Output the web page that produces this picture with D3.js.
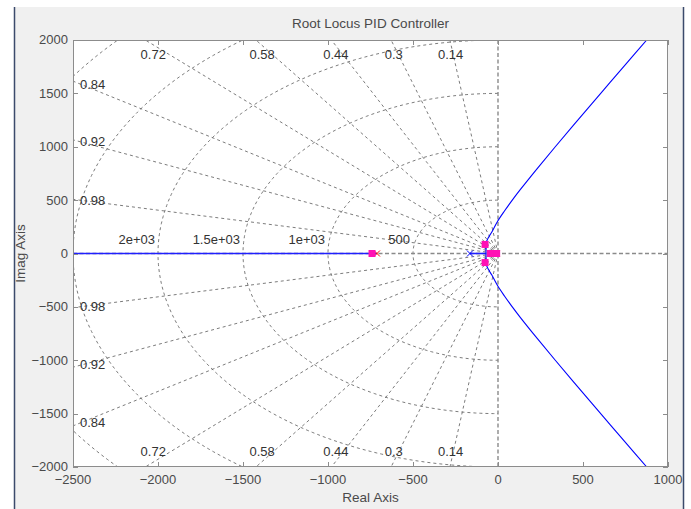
<!DOCTYPE html>
<html>
<head>
<meta charset="utf-8">
<script src="https://cdn.jsdelivr.net/npm/d3@7"></script>
<style>
  html, body { margin: 0; padding: 0; background: #ffffff; }
  svg { display: block; font-family: "Liberation Sans", Arial, sans-serif; }
</style>
</head>
<body>
<svg id="chart" width="691" height="509"></svg>
<script>
// ---------- data ----------
const titleText = "Root Locus PID Controller";
const xLabelText = "Real Axis";
const yLabelText = "Imag Axis";
const xDomain = [-2500, 1000];
const yDomain = [-2000, 2000];
const xTicks = [-2500, -2000, -1500, -1000, -500, 0, 500, 1000];
const yTicks = [-2000, -1500, -1000, -500, 0, 500, 1000, 1500, 2000];

// sgrid
const dampingRatios = [0.14, 0.3, 0.44, 0.58, 0.72, 0.84, 0.92, 0.98];
const dampingLabels = ["0.14", "0.3", "0.44", "0.58", "0.72", "0.84", "0.92", "0.98"];
const wnRadii = [500, 1000, 1500, 2000, 2500, 3000];
const wnLabelRadii = [500, 1000, 1500, 2000];
const wnLabels = ["500", "1e+03", "1.5e+03", "2e+03"];

// root locus branches
const realBranchA = [-2500, -712];
const realBranchB = [-165, -70];
const upperBranchRe = [-70, -71, -70, -56, -37, -3, 39, 84, 132, 233, 337, 443, 550, 658, 766, 875, 929];
const upperBranchIm = [0, 50, 100, 150, 200, 300, 400, 500, 600, 800, 1000, 1200, 1400, 1600, 1800, 2000, 2100];

// open-loop poles (x markers)
const blueXRe = [-165];
const blueXIm = [0];
const redXRe = [-712, -30, -8];
const redXIm = [0, 0, 0];

// closed-loop poles (squares)
const clRe = [-741, -76, -76, -45, -27, -8];
const clIm = [0, 85, -85, 0, 0, 0];

// ---------- layout ----------
const svg = d3.select("#chart");
const L = 73, R = 668, T = 40, B = 467;
const x = d3.scaleLinear().domain(xDomain).range([L, R]);
const y = d3.scaleLinear().domain(yDomain).range([B, T]);

// figure background
svg.append("rect").attr("x", 14).attr("y", 7).attr("width", 669).attr("height", 502).attr("fill", "#f0f0f0");
svg.append("line").attr("x1", 14.5).attr("x2", 14.5).attr("y1", 7).attr("y2", 509).attr("stroke", "#3b4a6b").attr("stroke-width", 1.5);
svg.append("line").attr("x1", 683.5).attr("x2", 683.5).attr("y1", 7).attr("y2", 509).attr("stroke", "#3b4a6b").attr("stroke-width", 1.5);

// axes background
svg.append("rect").attr("x", L).attr("y", T).attr("width", R - L).attr("height", B - T).attr("fill", "#ffffff");

svg.append("defs").append("clipPath").attr("id", "clip")
  .append("rect").attr("x", L).attr("y", T).attr("width", R - L).attr("height", B - T);

const plot = svg.append("g").attr("clip-path", "url(#clip)");
const gridColor = "#5a5a5a";

// natural frequency semicircles (left half-plane)
const arcLine = d3.line().x(d => x(d[0])).y(d => y(d[1]));
wnRadii.forEach(r => {
  const pts = d3.range(90, 270.5, 1).map(a => {
    const t = a * Math.PI / 180;
    return [r * Math.cos(t), r * Math.sin(t)];
  });
  plot.append("path").attr("d", arcLine(pts))
    .attr("fill", "none").attr("stroke", gridColor).attr("stroke-width", 0.8)
    .attr("stroke-dasharray", "3,3");
});

// damping ratio rays
dampingRatios.forEach(z => {
  const th = Math.acos(z);
  const far = 6000;
  [1, -1].forEach(s => {
    plot.append("line")
      .attr("x1", x(0)).attr("y1", y(0))
      .attr("x2", x(-far * Math.cos(th))).attr("y2", y(s * far * Math.sin(th)))
      .attr("stroke", gridColor).attr("stroke-width", 0.8)
      .attr("stroke-dasharray", "3,3");
  });
});

// real and imaginary axes of the s-plane
plot.append("line").attr("x1", L).attr("x2", R).attr("y1", y(0)).attr("y2", y(0))
  .attr("stroke", "#8a8a8a").attr("stroke-width", 1.3).attr("stroke-dasharray", "4,2.5");
plot.append("line").attr("x1", x(0)).attr("x2", x(0)).attr("y1", T).attr("y2", B)
  .attr("stroke", "#8a8a8a").attr("stroke-width", 1.4).attr("stroke-dasharray", "4,2.5");

// damping labels
const labelColor = "#333";
dampingRatios.forEach((z, i) => {
  const th = Math.acos(z);
  const tn = Math.tan(th);
  const xEdge = -yDomain[1] / tn;
  if (xEdge >= xDomain[0]) {
    const lx = x(xEdge) + 12.5 * z - 1;
    [T + 15.5, B - 14.5].forEach(ly => {
      svg.append("text").attr("x", lx).attr("y", ly)
        .attr("text-anchor", "middle").attr("dominant-baseline", "middle")
        .attr("font-size", 13).attr("fill", labelColor).text(dampingLabels[i]);
    });
  } else {
    const xd = x.invert(L + 8);
    const yd = -xd * tn;
    [1, -1].forEach(s => {
      svg.append("text").attr("x", L + 7).attr("y", y(s * yd) + 1)
        .attr("text-anchor", "start").attr("dominant-baseline", "middle")
        .attr("font-size", 13).attr("fill", labelColor).text(dampingLabels[i]);
    });
  }
});

// wn labels
wnLabelRadii.forEach((r, i) => {
  svg.append("text").attr("x", x(-r) - 3).attr("y", y(0) - 9.5)
    .attr("text-anchor", "end").attr("font-size", 13).attr("fill", labelColor).text(wnLabels[i]);
});

// root locus
const locusColor = "#0000ff";
const branch = d3.line().x(d => x(d[0])).y(d => y(d[1])).curve(d3.curveCatmullRom);
[realBranchA, realBranchB].forEach(br => {
  plot.append("line").attr("x1", x(br[0])).attr("x2", x(br[1]))
    .attr("y1", y(0)).attr("y2", y(0)).attr("stroke", "#2020ff").attr("stroke-width", 1.6);
});
const upper = upperBranchRe.map((v, i) => [v, upperBranchIm[i]]);
const lower = upperBranchRe.map((v, i) => [v, -upperBranchIm[i]]);
[upper, lower].forEach(pts => {
  plot.append("path").attr("d", branch(pts)).attr("fill", "none")
    .attr("stroke", locusColor).attr("stroke-width", 1.1);
});

// x markers
function xMark(px, py, color, s) {
  plot.append("path")
    .attr("d", `M${px - s},${py - s}L${px + s},${py + s}M${px - s},${py + s}L${px + s},${py - s}`)
    .attr("stroke", color).attr("stroke-width", 1).attr("fill", "none");
}
blueXRe.forEach((v, i) => xMark(x(v), y(blueXIm[i]), locusColor, 3));
redXRe.forEach((v, i) => xMark(x(v), y(redXIm[i]), "#ff0000", 3));

// closed-loop poles
const sq = 7;
clRe.forEach((v, i) => {
  plot.append("rect").attr("x", x(v) - sq / 2).attr("y", y(clIm[i]) - sq / 2)
    .attr("width", sq).attr("height", sq).attr("fill", "#ff10b4");
});

// axes frame
svg.append("rect").attr("x", L + 0.5).attr("y", T + 0.5).attr("width", R - L - 1).attr("height", B - T - 1)
  .attr("fill", "none").attr("stroke", "#8c8c8c").attr("stroke-width", 1);

// ticks (inward, all four sides)
const tickColor = "#8c8c8c";
const tl = 5;
xTicks.forEach(t => {
  const px = Math.round(x(t)) + 0.5;
  svg.append("line").attr("x1", px).attr("x2", px).attr("y1", B).attr("y2", B - tl).attr("stroke", tickColor);
  svg.append("line").attr("x1", px).attr("x2", px).attr("y1", T).attr("y2", T + tl).attr("stroke", tickColor);
});
yTicks.forEach(t => {
  const py = Math.round(y(t)) + 0.5;
  svg.append("line").attr("x1", L).attr("x2", L + tl).attr("y1", py).attr("y2", py).attr("stroke", tickColor);
  svg.append("line").attr("x1", R).attr("x2", R - tl).attr("y1", py).attr("y2", py).attr("stroke", tickColor);
});

// tick labels
const tickText = "#4a4a4a";
xTicks.forEach(t => {
  svg.append("text").attr("x", x(t)).attr("y", B + 13.5)
    .attr("text-anchor", "middle").attr("dominant-baseline", "middle")
    .attr("font-size", 13).attr("fill", tickText).text(d3.format("d")(t));
});
yTicks.forEach(t => {
  svg.append("text").attr("x", L - 5).attr("y", y(t) + 1)
    .attr("text-anchor", "end").attr("dominant-baseline", "middle")
    .attr("font-size", 13).attr("fill", tickText).text(d3.format("d")(t));
});

// title & axis labels
svg.append("text").attr("x", (L + R) / 2).attr("y", 24).attr("text-anchor", "middle")
  .attr("dominant-baseline", "middle").attr("font-size", 13.5).attr("fill", "#4a4a4a").text(titleText);
svg.append("text").attr("x", (L + R) / 2).attr("y", 498).attr("text-anchor", "middle")
  .attr("dominant-baseline", "middle").attr("font-size", 13.5).attr("fill", "#4a4a4a").text(xLabelText);
svg.append("text").attr("transform", `translate(21,${(T + B) / 2}) rotate(-90)`)
  .attr("text-anchor", "middle").attr("dominant-baseline", "middle")
  .attr("font-size", 13.5).attr("fill", "#4a4a4a").text(yLabelText);
</script>
</body>
</html>
